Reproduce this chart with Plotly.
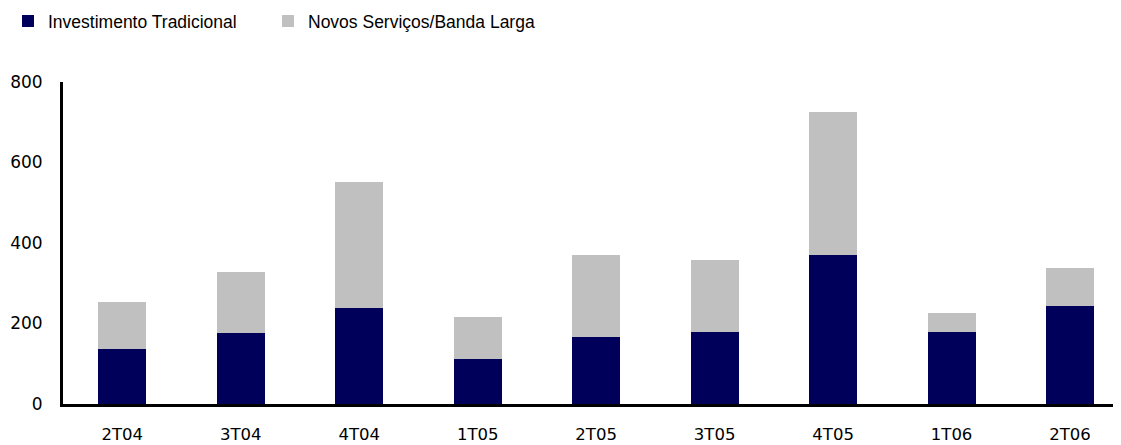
import plotly.graph_objects as go

# Quarterly capex split
quarters = ["2T04", "3T04", "4T04", "1T05", "2T05", "3T05", "4T05", "1T06", "2T06"]
tradicional = [137, 176, 238, 112, 167, 179, 370, 179, 243]
total = [254, 328, 552, 216, 370, 358, 725, 226, 338]
novos = [t - b for t, b in zip(total, tradicional)]

COLOR_TRAD = "#00005A"
COLOR_NOVOS = "#C0C0C0"

fig = go.Figure()
fig.add_trace(go.Bar(
    x=quarters, y=tradicional,
    name="Investimento Tradicional",
    marker=dict(color=COLOR_TRAD, line=dict(width=0)),
    width=0.405,
    legend="legend",
))
fig.add_trace(go.Bar(
    x=quarters, y=novos,
    name="Novos Serviços/Banda Larga",
    marker=dict(color=COLOR_NOVOS, line=dict(width=0)),
    width=0.405,
    legend="legend2",
))

# shared legend look, one legend box per series so each can be placed
legend_style = dict(
    orientation="h",
    xref="container", yref="container",
    y=0.970, xanchor="left", yanchor="middle",
    font=dict(family="Liberation Sans", size=17.5, color="#000000"),
    itemwidth=30,
)

# page body adds an 8px offset, so the figure is sized to what stays visible
fig.update_layout(
    barmode="stack",
    width=1113, height=437,
    margin=dict(t=74, b=41, l=55, r=0),
    plot_bgcolor="white",
    paper_bgcolor="white",
    font=dict(family="DejaVu Sans", size=17, color="#000000"),
    showlegend=True,
    legend=dict(x=0, **legend_style),
    legend2=dict(x=0.2336, **legend_style),
    xaxis=dict(
        type="category",
        range=[-0.5, 8.43],
        automargin=False,
        showgrid=False,
        showline=True, linecolor="#000000", linewidth=3,
        ticks="", ticklabelstandoff=13,
        tickfont=dict(family="DejaVu Sans", size=16.5),
        fixedrange=True,
    ),
    yaxis=dict(
        range=[0, 800],
        automargin=False,
        tickvals=[0, 200, 400, 600, 800],
        showgrid=False, zeroline=False,
        showline=True, linecolor="#000000", linewidth=3,
        ticks="", ticklabelstandoff=14,
        tickfont=dict(family="DejaVu Sans", size=17),
    ),
)

fig.write_html("out.html")
